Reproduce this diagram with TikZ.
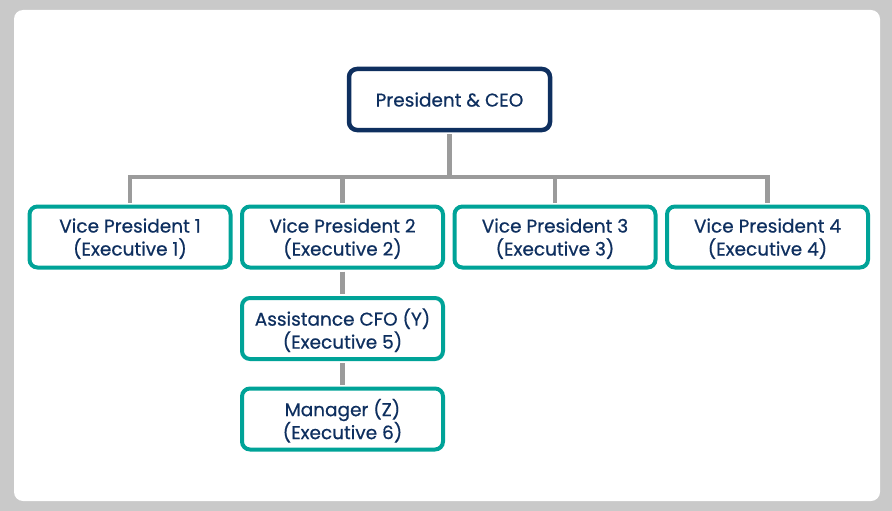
\documentclass[tikz,border=0pt]{standalone}
\usepackage{fontspec}
\setmainfont{Poppins}[FakeBold=0.6]
\usepackage{xcolor}
\usetikzlibrary{positioning}

\definecolor{navy}{HTML}{0E2F5F}
\definecolor{teal}{HTML}{00A398}
\definecolor{wire}{HTML}{9B9B9B}
\definecolor{frame}{HTML}{C9C9C9}

\tikzset{
  post/.style={draw=teal,line width=4pt,fill=white,rounded corners=8pt,
    minimum width=201pt,minimum height=61pt,align=center,text depth=0pt,
    text=navy,font=\fontsize{18.5}{23}\selectfont},
  head/.style={post,draw=navy,line width=4.5pt},
  link/.style={draw=wire,line width=4.5pt,shorten <=2pt,shorten >=2pt}
}

\begin{document}
\begin{tikzpicture}[x=1pt,y=-1pt,node distance=212.5pt,on grid]
   % page and panel
   \fill[frame] (0,0) rectangle (892,511);
   \fill[white,rounded corners=9pt] (14,10) rectangle (880,501);
   \useasboundingbox (0,0) rectangle (892,511);

   \node[head] (ceo) at (449.5,99.5) {President \& CEO};
   \node[post] (vp2) at (342.5,237) {Vice President 2\\(Executive 2)};
   \node[post] (vp1) [left=of vp2] {Vice President 1\\(Executive 1)};
   \node[post] (vp3) [right=of vp2] {Vice President 3\\(Executive 3)};
   \node[post] (vp4) [right=of vp3] {Vice President 4\\(Executive 4)};
   \node[post] (cfo) [below=91.5pt of vp2] {Assistance CFO (Y)\\(Executive 5)};
   \node[post] (mgr) [below=90.5pt of cfo] {Manager (Z)\\(Executive 6)};
   \coordinate (bus) at (449.5,177);

   \draw[link] (ceo.south) -- (bus);
   \draw[link] (vp1.north) |- (bus) -| (vp4.north);
   \draw[link] (vp2.north) -- (vp2.north |- bus);
   \draw[link] (vp3.north) -- (vp3.north |- bus);
   \draw[link] (vp2.south) -- (cfo.north);
   \draw[link] (cfo.south) -- (mgr.north);
\end{tikzpicture}
\end{document}
